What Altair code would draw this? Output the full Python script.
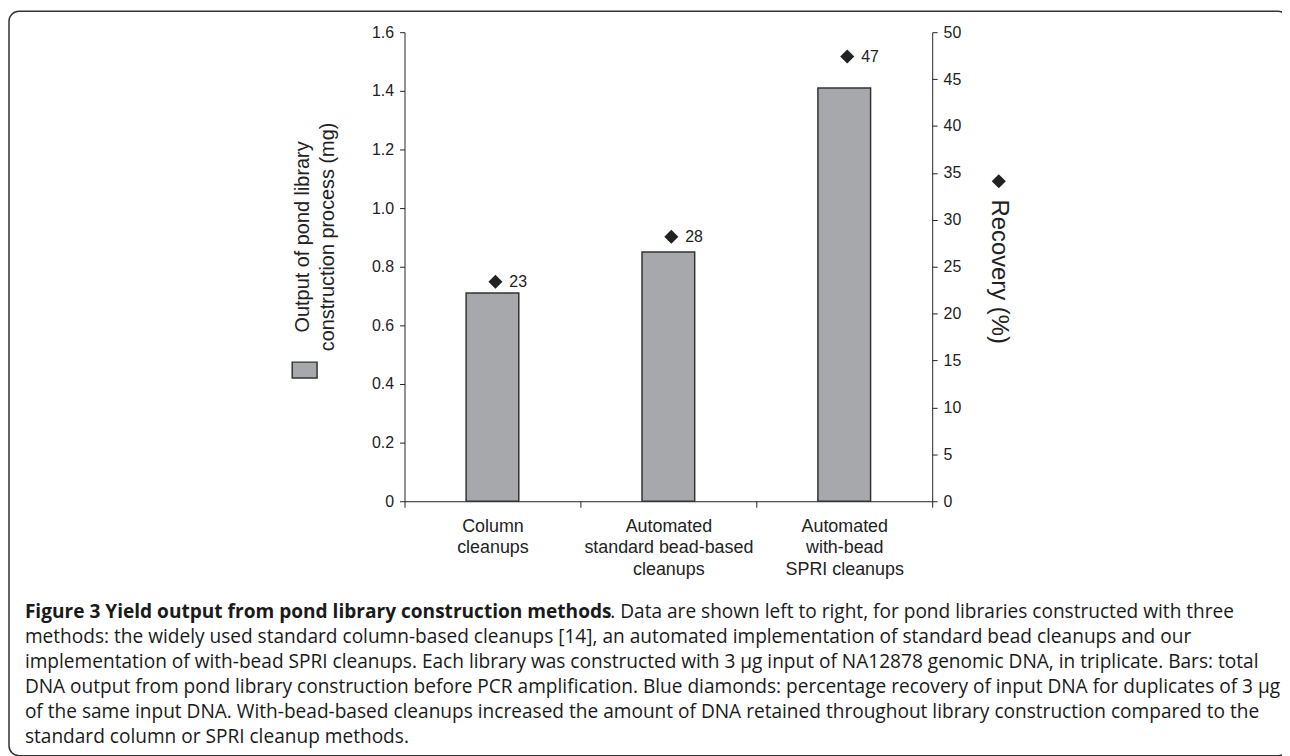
import altair as alt
import pandas as pd

# ---- data ----
categories = ["Column|cleanups",
              "Automated|standard bead-based|cleanups",
              "Automated|with-bead|SPRI cleanups"]
output_mg = [0.71, 0.85, 1.41]
recovery_pct = [23.4, 28.2, 47.4]
left_ticks = [0, 0.2, 0.4, 0.6, 0.8, 1.0, 1.2, 1.4, 1.6]
right_ticks = [0, 5, 10, 15, 20, 25, 30, 35, 40, 45, 50]
left_title = ["Output of pond library", "construction process (mg)"]
right_title = "Recovery (%)"
caption_bold = "Figure 3 Yield output from pond library construction methods"
caption_first_rest = ". Data are shown left to right, for pond libraries constructed with three"
caption_lines = [
    "methods: the widely used standard column-based cleanups [14], an automated implementation of standard bead cleanups and our",
    "implementation of with-bead SPRI cleanups. Each library was constructed with 3 µg input of NA12878 genomic DNA, in triplicate. Bars: total",
    "DNA output from pond library construction before PCR amplification. Blue diamonds: percentage recovery of input DNA for duplicates of 3 µg",
    "of the same input DNA. With-bead-based cleanups increased the amount of DNA retained throughout library construction compared to the",
    "standard column or SPRI cleanup methods.",
]

df = pd.DataFrame({"method": categories, "output": output_mg, "recovery": recovery_pct})

W, H = 531, 472
PAD_L, PAD_T = 399, 22
FONT = "Liberation Sans"
CAP_FONT = "Open Sans"
INK = "#222222"
BAR = "#a7a8ab"

x_enc = alt.X("method:N", sort=categories,
              scale=alt.Scale(paddingInner=0, paddingOuter=0),
              axis=alt.Axis(title=None, labelExpr="split(datum.label, '|')", labelAngle=0,
                            labelFontSize=18, labelLineHeight=22, labelPadding=10,
                            labelFont=FONT, labelColor=INK, tickBand="extent",
                            tickSize=6, tickColor=INK, domainColor=INK))

bars = alt.Chart(df).mark_bar(size=53, color=BAR, stroke="#333333", strokeWidth=1.5).encode(
    x=x_enc,
    y=alt.Y("output:Q", scale=alt.Scale(domain=[0, 1.6], nice=False, zero=True),
            axis=alt.Axis(orient="left", title=None, values=left_ticks, grid=False,
                          labelExpr="datum.value == 0 ? '0' : format(datum.value, '.1f')",
                          labelFont=FONT, labelFontSize=16, labelColor=INK,
                          labelPadding=6, tickSize=5, tickColor=INK, domainColor=INK)),
)

right_scale = alt.Scale(domain=[0, 50], nice=False, zero=True)
right_axis = alt.Axis(orient="right", title=None, values=right_ticks, grid=False,
                      labelFont=FONT, labelFontSize=16, labelColor=INK,
                      labelPadding=6, tickSize=5, tickColor=INK, domainColor=INK)
points = alt.Chart(df).mark_point(shape="diamond", filled=True, size=200, color=INK, opacity=1,
                                  xOffset=3).encode(
    x=alt.X("method:N", sort=categories),
    y=alt.Y("recovery:Q", scale=right_scale, axis=right_axis),
)
point_labels = alt.Chart(df).mark_text(align="left", baseline="middle", dx=14, xOffset=3,
                                       font=FONT, fontSize=16, color=INK).encode(
    x=alt.X("method:N", sort=categories),
    y=alt.Y("recovery:Q", scale=right_scale, axis=right_axis),
    text=alt.Text("recovery:Q", format=".0f"),
)
right_layer = alt.layer(points, point_labels)

one = pd.DataFrame({"k": [0]})

# titles drawn as rotated text
lt1 = alt.Chart(one).mark_text(angle=270, align="center", baseline="middle", font=FONT,
                               fontSize=20, color=INK).encode(
    x=alt.value(-102), y=alt.value(206), text=alt.value(left_title[0]))
lt2 = alt.Chart(one).mark_text(angle=270, align="center", baseline="middle", font=FONT,
                               fontSize=20, color=INK).encode(
    x=alt.value(-77), y=alt.value(206), text=alt.value(left_title[1]))
legend_box = alt.Chart(one).mark_rect(color=BAR, stroke="#333333", strokeWidth=1.5).encode(
    x=alt.value(-113), x2=alt.value(-88), y=alt.value(332), y2=alt.value(348))
rt = alt.Chart(one).mark_text(angle=90, align="center", baseline="middle", font=FONT,
                              fontSize=24, color=INK).encode(
    x=alt.value(598), y=alt.value(241), text=alt.value(right_title))
rt_sym = alt.Chart(one).mark_point(shape="diamond", filled=True, size=200, color=INK, opacity=1).encode(
    x=alt.value(598), y=alt.value(150))

# caption
CAP_SIZE = 19.2
cap_x = -382
cap_y0 = 583
cap_dy = 25.3
cap_layers = [
    alt.Chart(one).mark_text(align="left", baseline="middle", font=CAP_FONT, fontSize=CAP_SIZE,
                             fontWeight="bold", color="#1a1a1a").encode(
        x=alt.value(cap_x), y=alt.value(cap_y0), text=alt.value(caption_bold)),
    alt.Chart(one).mark_text(align="left", baseline="middle", font=CAP_FONT, fontSize=CAP_SIZE,
                             color="#1a1a1a").encode(
        x=alt.value(cap_x + 589), y=alt.value(cap_y0), text=alt.value(caption_first_rest)),
]
for i, line in enumerate(caption_lines):
    cap_layers.append(
        alt.Chart(one).mark_text(align="left", baseline="middle", font=CAP_FONT, fontSize=CAP_SIZE,
                                 color="#1a1a1a").encode(
            x=alt.value(cap_x), y=alt.value(cap_y0 + (i + 1) * cap_dy), text=alt.value(line)))

# rounded frame around figure (right and bottom edges run past the picture)
frame = alt.Chart(one).mark_rect(fill="transparent", stroke="#333333", strokeWidth=1.5,
                                 cornerRadius=10).encode(
    x=alt.value(1 - PAD_L), x2=alt.value(1288 - PAD_L),
    y=alt.value(1 - PAD_T), y2=alt.value(750 - PAD_T))

TOTAL_W, TOTAL_H = 1282, 748
chart = alt.layer(frame, bars, right_layer, lt1, lt2, legend_box, rt, rt_sym, *cap_layers).resolve_scale(
    y="independent"
).properties(
    width=W, height=H,
    autosize=alt.AutoSizeParams(type="none"),
    padding={"left": PAD_L, "top": PAD_T, "right": TOTAL_W - PAD_L - W, "bottom": TOTAL_H - PAD_T - H},
    background="white",
).configure_view(stroke=None, strokeWidth=0)

chart.save("out.html", embed_options={"renderer": "svg", "actions": False})
